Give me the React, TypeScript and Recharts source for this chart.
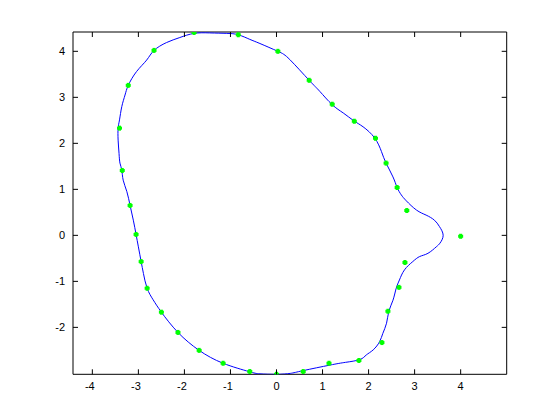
import React from 'react';
import { ScatterChart, Scatter, XAxis, YAxis } from 'recharts';

// Fitted closed curve (blue), traced clockwise from the top
const curveX = [
  -1.45, -1.08, -0.83, -0.58, -0.36, 0.03, 0.29, 0.71, 0.94, 1.21, 1.45, 1.68, 1.88, 2.13,
  2.28, 2.38, 2.53, 2.62, 2.71, 2.82, 3.04, 3.25, 3.43, 3.54, 3.62, 3.55, 3.47, 3.29, 3.11,
  2.96, 2.78, 2.67, 2.6, 2.53, 2.44, 2.39, 2.31, 2.24, 2.1, 1.95, 1.81, 1.5, 1.16, 0.58,
  0.3, 0.0, -0.36, -0.6, -1.16, -1.68, -2.14, -2.5, -2.68, -2.81, -2.89, -2.94, -3.0, -3.05,
  -3.11, -3.18, -3.25, -3.33, -3.36, -3.4, -3.42, -3.44, -3.44, -3.41, -3.36, -3.29, -3.22,
  -3.04, -2.82, -2.66, -2.39, -2.1, -1.79, -1.45,
];
const curveY = [
  4.4, 4.39, 4.36, 4.26, 4.17, 4.0, 3.82, 3.37, 3.13, 2.84, 2.66, 2.49, 2.36, 2.12,
  1.82, 1.57, 1.27, 1.04, 0.88, 0.75, 0.55, 0.44, 0.33, 0.19, 0.0, -0.17, -0.25, -0.39, -0.46,
  -0.57, -0.75, -0.97, -1.15, -1.41, -1.65, -1.91, -2.13, -2.31, -2.49, -2.6, -2.7, -2.76, -2.82, -2.94,
  -3.0, -3.02, -3.01, -2.96, -2.78, -2.5, -2.11, -1.67, -1.4, -1.15, -0.83, -0.57, -0.25, 0.02,
  0.33, 0.65, 0.95, 1.2, 1.42, 1.57, 1.78, 2.07, 2.33, 2.51, 2.8, 3.05, 3.26,
  3.56, 3.81, 4.02, 4.19, 4.3, 4.39, 4.4,
];

// Sample points (green)
const pointX = [
  4.0, 2.83, 2.62, 2.38, 2.15, 1.69, 1.21, 0.71, 0.03, -0.83, -1.79, -2.66, -3.22, -3.41,
  -3.35, -3.18, -3.05, -2.94, -2.81, -2.5, -2.14, -1.68, -1.16, -0.58, 0.0, 0.58, 1.14,
  1.79, 2.29, 2.42, 2.66, 2.79,
];
const pointY = [
  -0.02, 0.54, 1.04, 1.57, 2.11, 2.48, 2.85, 3.37, 4.0, 4.36, 4.41, 4.02, 3.26, 2.33,
  1.41, 0.65, 0.02, -0.57, -1.15, -1.67, -2.11, -2.5, -2.78, -2.96, -3.02, -2.96, -2.78,
  -2.72, -2.33, -1.65, -1.13, -0.59,
];

const xTicks = [-4, -3, -2, -1, 0, 1, 2, 3, 4];
const yTicks = [-2, -1, 0, 1, 2, 3, 4];
const xDomain = [-4.42, 5];
const yDomain = [-3.02, 4.42];

const curveData = curveX.map((x, i) => ({ x, y: curveY[i] }));
const pointData = pointX.map((x, i) => ({ x, y: pointY[i] }));

const FONT = '"Liberation Sans", Arial, Helvetica, sans-serif';
const TL = 5;

const BottomTick = (p: any) => {
  const { x, y, payload } = p;
  const v = payload.value;
  return (
    <g>
      <line x1={x} y1={y} x2={x} y2={y - TL} stroke="#000" strokeWidth={1} />
      <text x={x + (v < 0 ? -2.5 : 0)} y={y + 16} textAnchor="middle" fontSize={11} fontFamily={FONT} fill="#000">
        {v}
      </text>
    </g>
  );
};
const TopTick = (p: any) => {
  const { x, y } = p;
  return <line x1={x} y1={y} x2={x} y2={y + TL} stroke="#000" strokeWidth={1} />;
};
const LeftTick = (p: any) => {
  const { x, y, payload } = p;
  return (
    <g>
      <line x1={x} y1={y} x2={x + TL} y2={y} stroke="#000" strokeWidth={1} />
      <text x={x - 8} y={y + 4} textAnchor="end" fontSize={11} fontFamily={FONT} fill="#000">
        {payload.value}
      </text>
    </g>
  );
};
const RightTick = (p: any) => {
  const { x, y } = p;
  return <line x1={x} y1={y} x2={x - TL} y2={y} stroke="#000" strokeWidth={1} />;
};

const GreenMark = (p: any) => {
  const { cx, cy } = p;
  if (cx == null || cy == null) return <g />;
  return (
    <g fill="#00ff00">
      <rect x={cx - 2.5} y={cy - 1.5} width={5} height={3} />
      <rect x={cx - 1.5} y={cy - 2.5} width={3} height={5} />
    </g>
  );
};
const NoMark = () => <g />;

export default function App() {
  return (
    <div style={{ position: 'absolute', left: 0, top: 0, width: 560, height: 420, background: '#fff' }}>
      <ScatterChart width={560} height={420} margin={{ top: 22, right: 43.3, bottom: 15.7, left: 33 }}>
        <XAxis
          xAxisId="b"
          type="number"
          dataKey="x"
          domain={xDomain}
          ticks={xTicks}
          allowDataOverflow
          orientation="bottom"
          height={30}
          tickSize={0}
          tickMargin={0}
          tick={<BottomTick />}
          axisLine={{ stroke: '#000' }}
          interval={0}
        />
        <XAxis
          xAxisId="t"
          type="number"
          dataKey="x"
          domain={xDomain}
          ticks={xTicks}
          allowDataOverflow
          orientation="top"
          height={10}
          tickSize={0}
          tickMargin={0}
          tick={<TopTick />}
          axisLine={{ stroke: '#000' }}
          interval={0}
        />
        <YAxis
          yAxisId="l"
          type="number"
          dataKey="y"
          domain={yDomain}
          ticks={yTicks}
          allowDataOverflow
          orientation="left"
          width={40}
          tickSize={0}
          tickMargin={0}
          tick={<LeftTick />}
          axisLine={{ stroke: '#000' }}
          interval={0}
        />
        <YAxis
          yAxisId="r"
          type="number"
          dataKey="y"
          domain={yDomain}
          ticks={yTicks}
          allowDataOverflow
          orientation="right"
          width={10}
          tickSize={0}
          tickMargin={0}
          tick={<RightTick />}
          axisLine={{ stroke: '#000' }}
          interval={0}
        />
        <Scatter
          xAxisId="b"
          yAxisId="l"
          data={curveData}
          line={{ stroke: '#0000ff', strokeWidth: 1 }}
          lineType="joint"
          lineJointType="natural"
          shape={<NoMark />}
          isAnimationActive={false}
        />
        <Scatter
          xAxisId="b"
          yAxisId="l"
          data={pointData}
          shape={<GreenMark />}
          isAnimationActive={false}
        />
      </ScatterChart>
    </div>
  );
}
